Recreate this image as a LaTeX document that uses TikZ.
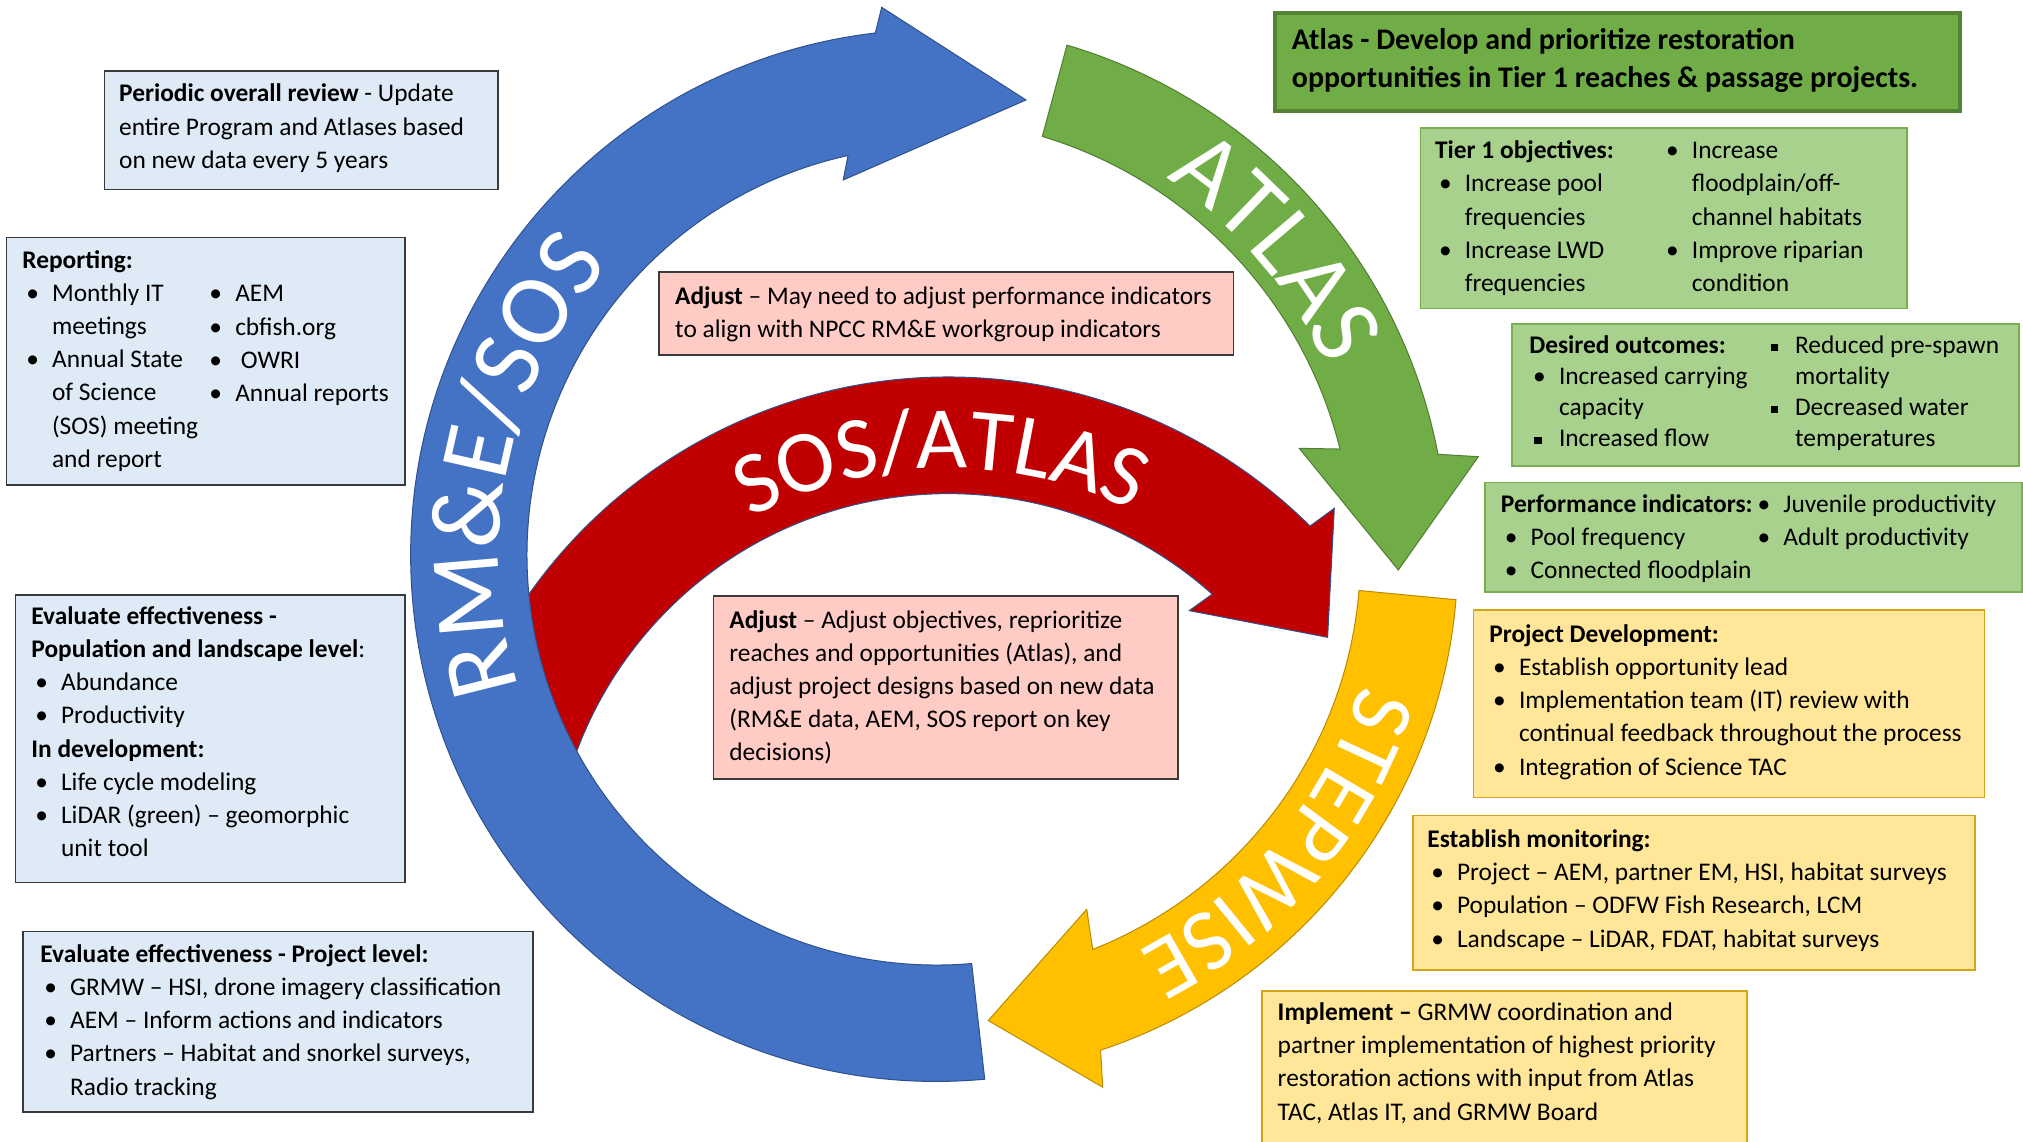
\documentclass[tikz,border=0pt]{standalone}
\usepackage{fontspec}
\setmainfont{Carlito}
\usetikzlibrary{calc,fit,decorations.text}
\definecolor{cblue}{HTML}{4472C4}
\definecolor{cgreen}{HTML}{70AD47}
\definecolor{cyellow}{HTML}{FFC000}
\definecolor{cred}{HTML}{C00000}
\definecolor{blueline}{HTML}{2F528F}
\definecolor{greenline}{HTML}{507E32}
\definecolor{yellowline}{HTML}{BC8C00}
\definecolor{lblue}{HTML}{DEEBF7}
\definecolor{lpink}{HTML}{FFCCC5}
\definecolor{lgreen}{HTML}{A9D18E}
\definecolor{lyellow}{HTML}{FFE699}
\definecolor{dgreen}{HTML}{548235}
\definecolor{boxline}{HTML}{3A3A3A}
\definecolor{gline}{HTML}{78B050}
\definecolor{yline}{HTML}{D4A514}
\newcommand{\bul}{\makebox[0.46cm][l]{\hspace{0.06cm}•}}
\newcommand{\sqbul}{\makebox[0.46cm][l]{\hspace{0.08cm}\rule[0.08em]{0.3em}{0.3em}}}
\newcommand{\cont}{\hspace*{0.46cm}}
\newcommand{\tlines}[1]{\begin{tabular}[t]{@{}l@{}}#1\end{tabular}}
\begin{document}
\begin{tikzpicture}[x=0.02cm,y=0.02cm,
  bx/.style={inner sep=0pt, line width=0.7pt},
  lbox/.style={bx, draw=boxline, fill=lblue},
  pbox/.style={bx, draw=boxline, fill=lpink},
  tbox/.style={bx, draw=dgreen, fill=cgreen, line width=1.8pt},
  gbox/.style={bx, draw=gline, fill=lgreen},
  ybox/.style={bx, draw=yline, fill=lyellow},
  txt/.style={inner sep=0pt, anchor=base west, text=black, font=\fontsize{11.2}{14.63}\selectfont},
  txtd/.style={txt, font=\fontsize{11.2}{13.66}\selectfont},
  ttl/.style={txt, font=\bfseries\fontsize{13.2}{17.07}\selectfont},
  arrowshape/.style={line width=0.45pt},
  arctext/.style={decorate, decoration={text along path, text align=center, text={#1}}}
]
\useasboundingbox (0,0) rectangle (1568,885);
\coordinate (cb) at (726,454.5);
\coordinate (cg) at (710,455);
\coordinate (cyl) at (726,454.5);
\coordinate (cr) at (735,194.9);

% red arrow (under blue)
\filldraw[arrowshape, fill=cred, draw=blueline]
  ($(cr)+(150:397.9)$) arc[start angle=150, end angle=45.2, radius=397.9]
  -- (1034.2,491) -- (1029,391) -- (921.8,411.7)
  -- ($(cr)+(48.3:307.5)$) arc[start angle=48.3, end angle=165, radius=307.5] -- cycle;

% blue arrow
\filldraw[arrowshape, fill=cblue, draw=blueline]
  ($(cb)+(-84.76:407.7)$) arc[start angle=-84.76, end angle=-263.3, radius=407.7]
  -- (683.4,879.3) -- (795.2,807.5) -- (653.6,745.5)
  -- ($(cb)+(102.5:317.5)$) arc[start angle=102.5, end angle=274.9, radius=317.5] -- cycle;

% green arrow
\filldraw[arrowshape, fill=cgreen, draw=greenline]
  ($(cg)+(73.5:412)$) arc[start angle=73.5, end angle=10.9, radius=412]
  -- (1145.8,531) -- (1083.8,443.2) -- (1007,537.5)
  -- ($(cg)+(14:338.7)$) arc[start angle=14, end angle=73.2, radius=338.7] -- cycle;

% yellow arrow
\filldraw[arrowshape, fill=cyellow, draw=yellowline]
  ($(cyl)+(-4.88:404)$) arc[start angle=-4.88, end angle=-71.67, radius=404]
  -- (854.7,42.3) -- (766,94) -- (842.3,180.2)
  -- ($(cyl)+(-68.4:328.5)$) arc[start angle=-68.4, end angle=-4.75, radius=328.5] -- cycle;

% arrow texts
\path[arctext={|\color{white}\fontsize{44}{44}\selectfont|RM{\&}E/SOS}]
  ($(cb)+(210:339)$) arc[start angle=210, end angle=126, radius=339];
\path[arctext={|\color{white}\fontsize{44}{44}\selectfont|ATLAS}]
  ($(cg)+(72:350)$) arc[start angle=72, end angle=9, radius=350];
\path[arctext={|\color{white}\fontsize{39}{39}\selectfont|SOS/ATLAS}]
  ($(cr)+(131:327)$) arc[start angle=131, end angle=51, radius=327];
\path[arctext={|\color{white}\fontsize{39}{39}\selectfont|STEPWISE}]
  ($(cyl)+(-7.5:344)$) arc[start angle=-7.5, end angle=-72.5, radius=344];

% ---------- left boxes ----------
\node[lbox, fit={(81,738) (386,830)}] (boxA) {};
\node[txt] (tA) at (92,806) {\tlines{\textbf{Periodic overall review} - Update\\ entire Program and Atlases based\\ on new data every 5 years}};

\node[lbox, fit={(5,509) (314,701)}] (boxB) {};
\node[txt] (tB1) at (17,677) {\tlines{\textbf{Reporting:}\\ \bul Monthly IT\\ \cont meetings\\ \bul Annual State\\ \cont of Science\\ \cont (SOS) meeting\\ \cont and report}};
\node[txt] (tB2) at (159,651) {\tlines{\bul AEM\\ \bul cbfish.org\\ \bul \ OWRI\\ \bul Annual reports}};

\node[lbox, fit={(12,201) (314,424)}] (boxC) {};
\node[txt] (tC) at (24,401) {\tlines{\textbf{Evaluate effectiveness -}\\ \textbf{Population and landscape level}:\\ \bul Abundance\\ \bul Productivity\\ \textbf{In development:}\\ \bul Life cycle modeling\\ \bul LiDAR (green) – geomorphic\\ \cont unit tool}};

\node[lbox, fit={(18,23) (413,163)}] (boxD) {};
\node[txt] (tD) at (31,139) {\tlines{\textbf{Evaluate effectiveness - Project level:}\\ \bul GRMW – HSI, drone imagery classification\\ \bul AEM – Inform actions and indicators\\ \bul Partners – Habitat and snorkel surveys,\\ \cont Radio tracking}};

% ---------- centre boxes ----------
\node[pbox, fit={(511,610) (956,674)}] (boxE) {};
\node[txt] (tE) at (523,649) {\tlines{\textbf{Adjust} – May need to adjust performance indicators\\ to align with NPCC RM\&E workgroup indicators}};

\node[pbox, fit={(553,281) (913,423)}] (boxF) {};
\node[txt] (tF) at (565,398) {\tlines{\textbf{Adjust} – Adjust objectives, reprioritize\\ reaches and opportunities (Atlas), and\\ adjust project designs based on new data\\ (RM\&E data, AEM, SOS report on key\\ decisions)}};

% ---------- right boxes ----------
\node[tbox, fit={(988,799) (1519,875)}] (boxG) {};
\node[ttl] (tG) at (1001,847) {\tlines{Atlas - Develop and prioritize restoration\\ opportunities in Tier 1 reaches \& passage projects.}};

\node[gbox, fit={(1101,646) (1478,786)}] (boxH) {};
\node[txt] (tH1) at (1112,762) {\tlines{\textbf{Tier 1 objectives:}\\ \bul Increase pool\\ \cont frequencies\\ \bul Increase LWD\\ \cont frequencies}};
\node[txt] (tH2) at (1288,762) {\tlines{\bul Increase\\ \cont floodplain/off-\\ \cont channel habitats\\ \bul Improve riparian\\ \cont condition}};

\node[gbox, fit={(1172,524) (1565,634)}] (boxI) {};
\node[txtd] (tI1) at (1185,611) {\tlines{\textbf{Desired outcomes:}\\ \bul Increased carrying\\ \cont capacity\\ \sqbul Increased flow}};
\node[txtd] (tI2) at (1368,611) {\tlines{\sqbul Reduced pre-spawn\\ \cont mortality\\ \sqbul Decreased water\\ \cont temperatures}};

\node[gbox, fit={(1151,426) (1567,511)}] (boxJ) {};
\node[txt] (tJ1) at (1163,488) {\tlines{\textbf{Performance indicators:}\\ \bul Pool frequency\\ \bul Connected floodplain}};
\node[txt] (tJ2) at (1359,488) {\tlines{\bul Juvenile productivity\\ \bul Adult productivity}};

\node[ybox, fit={(1142,267) (1538,412)}] (boxK) {};
\node[txt] (tK) at (1154,387) {\tlines{\textbf{Project Development:}\\ \bul Establish opportunity lead\\ \bul Implementation team (IT) review with\\ \cont continual feedback throughout the process\\ \bul Integration of Science TAC}};

\node[ybox, fit={(1095,133) (1531,253)}] (boxL) {};
\node[txt] (tL) at (1106,228) {\tlines{\textbf{Establish monitoring:}\\ \bul Project – AEM, partner EM, HSI, habitat surveys\\ \bul Population – ODFW Fish Research, LCM\\ \bul Landscape – LiDAR, FDAT, habitat surveys}};

\node[ybox, fit={(978,-6) (1354,117)}] (boxM) {};
\node[txt] (tM) at (990,94) {\tlines{\textbf{Implement –} GRMW coordination and\\ partner implementation of highest priority\\ restoration actions with input from Atlas\\ TAC, Atlas IT, and GRMW Board}};
\end{tikzpicture}
\end{document}
